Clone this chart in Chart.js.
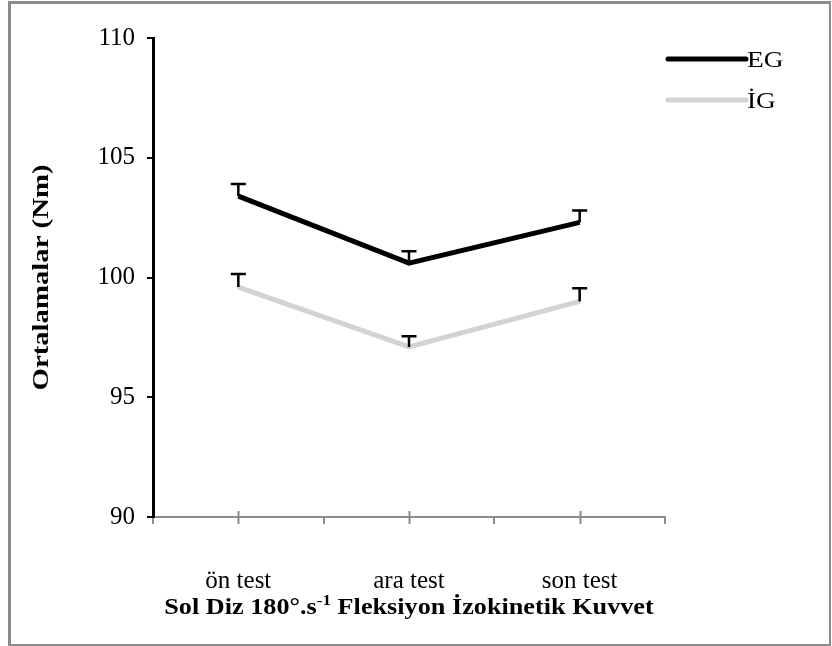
<!DOCTYPE html>
<html>
<head>
<meta charset="utf-8">
<script src="https://cdn.jsdelivr.net/npm/chart.js@4.4.1/dist/chart.umd.min.js"></script>
<style>
  html, body { margin: 0; padding: 0; background: #fff; }
  #wrap { width: 832px; height: 646px; }
</style>
</head>
<body>
<div id="wrap"><canvas id="c" width="832" height="646"></canvas></div>
<script>
// Test phases and group means (Nm) with standard errors
const categories = ['ön test', 'ara test', 'son test'];
const egMeans = [103.4, 100.6, 102.3];
const egErrors = [0.5, 0.5, 0.5];
const igMeans = [99.6, 97.1, 99.0];
const igErrors = [0.55, 0.45, 0.55];
const seriesNames = ['EG', 'İG'];
const yTicks = [90, 95, 100, 105, 110];
const yTitle = 'Ortalamalar (Nm)';
const xTitleParts = ['Sol Diz 180°.s', '-1', ' Fleksiyon İzokinetik Kuvvet'];

const SERIF = '"Liberation Serif", "Times New Roman", serif';

// Outer grey frame around the figure
const framePlugin = {
  id: 'frame',
  beforeDraw(chart) {
    const ctx = chart.ctx;
    ctx.save();
    ctx.fillStyle = '#ffffff';
    ctx.fillRect(0, 0, chart.width, chart.height);
    ctx.fillStyle = '#8c8c8c';
    ctx.fillRect(8, 1, 3, 645);
    ctx.fillRect(8, 1, 823, 3);
    ctx.fillRect(829, 1, 2, 645);
    ctx.fillRect(8, 644, 823, 2);
    ctx.restore();
  }
};

// Upper error bars with a cap for each group mean
const errorBarPlugin = {
  id: 'errorBars',
  afterDatasetsDraw(chart) {
    const ctx = chart.ctx;
    const x = chart.scales.x, y = chart.scales.y;
    const errs = [egErrors, igErrors];
    ctx.save();
    ctx.strokeStyle = '#000';
    ctx.lineWidth = 2.5;
    chart.data.datasets.forEach((ds, di) => {
      ds.data.forEach((v, i) => {
        const px = x.getPixelForValue(i);
        const py = y.getPixelForValue(v);
        const pt = y.getPixelForValue(v + errs[di][i]);
        ctx.beginPath();
        ctx.moveTo(px, py);
        ctx.lineTo(px, pt);
        ctx.moveTo(px - 7.5, pt);
        ctx.lineTo(px + 7.5, pt);
        ctx.stroke();
      });
    });
    ctx.restore();
  }
};

// Text drawn with a slight horizontal stretch
function stretchedText(ctx, text, x, y, sx) {
  ctx.save();
  ctx.translate(x, y);
  ctx.scale(sx, 1);
  ctx.fillText(text, 0, 0);
  ctx.restore();
}

// Category-centre tick marks, axis titles, legend
const decorPlugin = {
  id: 'decor',
  afterDraw(chart) {
    const ctx = chart.ctx;
    const x = chart.scales.x;
    const area = chart.chartArea;
    ctx.save();
    ctx.strokeStyle = '#8c8c8c';
    ctx.lineWidth = 2;
    categories.forEach((c, i) => {
      const px = Math.round(x.getPixelForValue(i)) + 0.5;
      ctx.beginPath();
      ctx.moveTo(px, area.bottom - 6);
      ctx.lineTo(px, area.bottom + 7);
      ctx.stroke();
    });

    ctx.fillStyle = '#000';
    ctx.textAlign = 'left';

    // x-axis title with superscript exponent
    const SX = 1.14;
    const big = 'bold 23px ' + SERIF;
    const small = 'bold 15px ' + SERIF;
    ctx.textBaseline = 'alphabetic';
    ctx.font = big;
    const w0 = ctx.measureText(xTitleParts[0]).width * SX;
    const w2 = ctx.measureText(xTitleParts[2]).width * SX;
    ctx.font = small;
    const w1 = ctx.measureText(xTitleParts[1]).width * SX;
    const total = w0 + w1 + w2;
    const sx = (area.left + area.right) / 2 - total / 2;
    const base = 614;
    ctx.font = big;
    stretchedText(ctx, xTitleParts[0], sx, base, SX);
    ctx.font = small;
    stretchedText(ctx, xTitleParts[1], sx + w0, base - 9, SX);
    ctx.font = big;
    stretchedText(ctx, xTitleParts[2], sx + w0 + w1, base, SX);

    // y-axis title, rotated
    ctx.save();
    ctx.translate(42, (area.top + area.bottom) / 2);
    ctx.rotate(-Math.PI / 2);
    ctx.scale(1.25, 1);
    ctx.font = 'bold 23px ' + SERIF;
    ctx.textAlign = 'center';
    ctx.textBaseline = 'middle';
    ctx.fillText(yTitle, 0, 0);
    ctx.restore();

    // legend
    ctx.font = '24px ' + SERIF;
    ctx.textBaseline = 'middle';
    chart.data.datasets.forEach((ds, i) => {
      const ly = 59 + i * 41;
      ctx.strokeStyle = ds.borderColor;
      ctx.lineWidth = 5;
      ctx.lineCap = 'round';
      ctx.beginPath();
      ctx.moveTo(668, ly);
      ctx.lineTo(746, ly);
      ctx.stroke();
      ctx.fillStyle = '#000';
      stretchedText(ctx, ds.label, 747, ly + 2, 1.14);
    });
    ctx.restore();
  }
};

new Chart(document.getElementById('c'), {
  type: 'line',
  data: {
    labels: categories,
    datasets: [
      { label: seriesNames[0], data: egMeans, borderColor: '#000000', borderWidth: 5,
        pointRadius: 0, tension: 0, borderJoinStyle: 'miter', borderCapStyle: 'butt' },
      { label: seriesNames[1], data: igMeans, borderColor: '#d3d3d3', borderWidth: 5,
        pointRadius: 0, tension: 0, borderJoinStyle: 'miter', borderCapStyle: 'butt' }
    ]
  },
  options: {
    responsive: false,
    devicePixelRatio: 1,
    animation: false,
    layout: { padding: { left: 0, top: 38, right: 167, bottom: 0 } },
    plugins: { legend: { display: false }, tooltip: { enabled: false } },
    scales: {
      x: {
        offset: true,
        grid: { offset: true, drawOnChartArea: false, drawTicks: true, tickLength: 7,
                color: '#8c8c8c', lineWidth: 2 },
        border: { color: '#8c8c8c', width: 2 },
        ticks: { color: '#000', font: { family: SERIF, size: 25 }, padding: 42 },
        afterFit(scale) { scale.height = 129; }
      },
      y: {
        min: 90, max: 110,
        afterBuildTicks(scale) { scale.ticks = yTicks.map(v => ({ value: v })); },
        grid: { drawOnChartArea: false, drawTicks: true, tickLength: 6, color: '#000', lineWidth: 2 },
        border: { color: '#000', width: 3 },
        ticks: { color: '#000', font: { family: SERIF, size: 25 }, padding: 12 },
        afterFit(scale) { scale.width = 153; }
      }
    }
  },
  plugins: [framePlugin, errorBarPlugin, decorPlugin]
});
</script>
</body>
</html>
